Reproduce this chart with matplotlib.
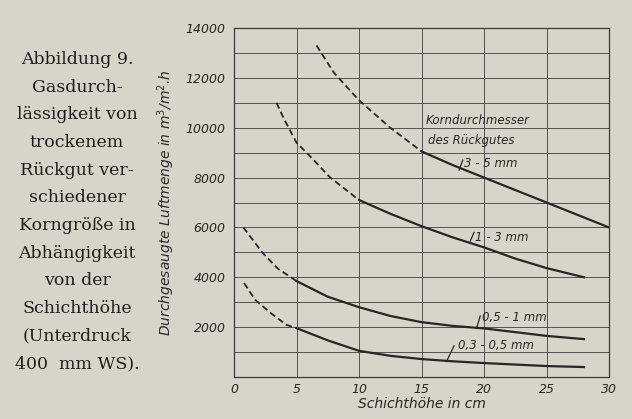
import matplotlib
matplotlib.use("Agg")
from matplotlib import pyplot as plt

# Schichthoehe (cm) und Luftmenge (m3/m2 h), je Korngroesse
x_35 = [6.6, 8, 10, 12.5, 15, 17.5, 20, 22.5, 25, 27.5, 30]
y_35 = [13300, 12200, 11100, 10000, 9050, 8500, 8000, 7500, 7000, 6500, 6000]

x_13 = [3.4, 4, 5, 6, 7.7, 10, 12.5, 15, 17.5, 20, 22.5, 25, 28]
y_13 = [11000, 10350, 9400, 8900, 8000, 7100, 6550, 6050, 5600, 5200, 4750, 4370, 4000]

x_051 = [0.75, 2.3, 3.5, 5, 7.5, 10, 12.5, 15, 17.5, 20, 22.5, 25, 28]
y_051 = [6000, 4970, 4350, 3850, 3220, 2800, 2450, 2200, 2050, 1950, 1800, 1650, 1520]

x_0305 = [0.8, 1.7, 3, 4.2, 5, 7.5, 10, 12.5, 15, 17.5, 20, 22.5, 25, 28]
y_0305 = [3770, 3090, 2540, 2090, 1960, 1470, 1050, 850, 720, 630, 560, 500, 440, 400]

# bis hierhin gestrichelt, danach ausgezogen
dash_end = [15, 10, 5, 5]
kurven = [(x_35, y_35), (x_13, y_13), (x_051, y_051), (x_0305, y_0305)]
labels = ["3 - 5 mm", "1 - 3 mm", "0,5 - 1 mm", "0,3 - 0,5 mm"]

bg = "#d6d5c9"
ink = "#262626"

fig = plt.figure(figsize=(6.32, 4.19), dpi=100, facecolor=bg)
ax = fig.add_axes([0.3703, 0.1002, 0.5933, 0.833], facecolor=bg)

for (xs, ys), xe in zip(kurven, dash_end):
    xd = [x for x in xs if x <= xe]
    yd = [y for x, y in zip(xs, ys) if x <= xe]
    xs_ = [x for x in xs if x >= xe]
    ys_ = [y for x, y in zip(xs, ys) if x >= xe]
    ax.plot(xd, yd, color=ink, lw=1.3, ls=(0, (3.5, 2)))
    ax.plot(xs_, ys_, color=ink, lw=1.6)

ax.set_xlim(0, 30)
ax.set_ylim(0, 14000)
ax.set_xticks(range(0, 31, 5))
ax.set_yticks(range(2000, 14001, 2000))
ax.set_yticks(range(1000, 14000, 1000), minor=True)
ax.grid(True, which="both", color="#4a4a4a", lw=0.65)
ax.tick_params(which="both", length=0)
for s in ax.spines.values():
    s.set_color("#3a3a3a")
    s.set_linewidth(0.9)

tick_font = dict(family="DejaVu Sans", style="italic", size=9, color=ink)
ax.set_xticklabels([str(v) for v in range(0, 31, 5)], **tick_font)
ax.set_yticklabels([str(v) for v in range(2000, 14001, 2000)], **tick_font)
ax.tick_params(axis="x", pad=4)
ax.tick_params(axis="y", pad=6)

ax.set_xlabel("Schichthöhe in cm", family="DejaVu Sans", style="italic",
              size=10, color=ink, labelpad=1)
ax.set_ylabel("Durchgesaugte Luftmenge in m$^3$/m$^2$.h", family="DejaVu Sans",
              style="italic", size=10, color=ink, labelpad=6)

# Beschriftung der Kurven
lab_font = dict(family="DejaVu Sans", style="italic", size=8.5, color=ink)
ax.text(15.3, 10300, "Korndurchmesser", ha="left", va="center", **lab_font)
ax.text(15.5, 9500, "des Rückgutes", ha="left", va="center", **lab_font)
ax.text(18.4, 8550, labels[0], ha="left", va="center", **lab_font)
ax.text(19.3, 5600, labels[1], ha="left", va="center", **lab_font)
ax.text(19.8, 2400, labels[2], ha="left", va="center", **lab_font)
ax.text(17.9, 1280, labels[3], ha="left", va="center", **lab_font)
# kleine Zeiger von der Kurve zur Beschriftung
for (x0, y0, x1, y1) in [(18.0, 8300, 18.3, 8700), (18.9, 5450, 19.2, 5800),
                         (19.4, 1950, 19.7, 2450), (17.0, 620, 17.6, 1250)]:
    ax.plot([x0, x1], [y0, y1], color=ink, lw=0.9)

caption = ("Abbildung 9.\nGasdurch-\nlässigkeit von\ntrockenem\nRückgut ver-\n"
           "schiedener\nKorngröße in\nAbhängigkeit\nvon der\nSchichthöhe\n"
           "(Unterdruck\n400  mm WS).")
fig.text(0.122, 0.878, caption, ha="center", va="top", family="DejaVu Serif",
         size=12.5, color="#1e1e1e", linespacing=1.82)

fig.savefig("out.png", dpi=100, facecolor=bg)
